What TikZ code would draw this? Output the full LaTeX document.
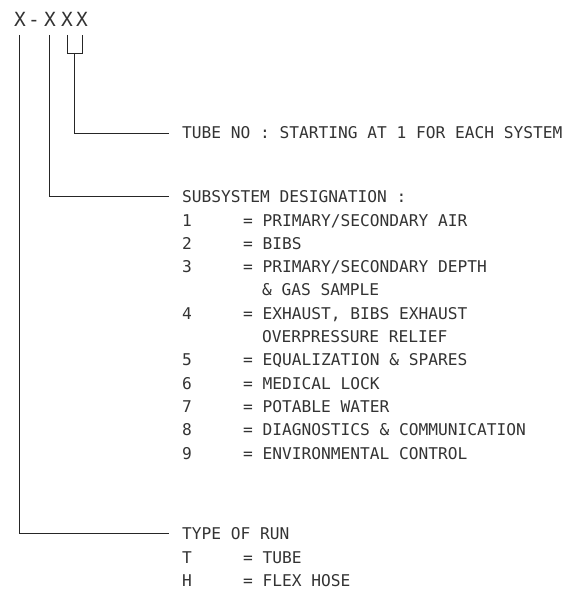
\documentclass[tikz,border=0pt]{standalone}
\usepackage{fontspec}
\setmainfont{DejaVu Sans Mono}
\newcommand{\lblfont}{\fontsize{16.2pt}{18pt}\selectfont}
\newcommand{\codefont}{\fontsize{19.5pt}{21pt}\selectfont}
\newcommand{\numcol}[1]{\makebox[61pt][l]{#1}}
\begin{document}
\begin{tikzpicture}[x=1pt,y=-1pt,
  every node/.style={inner sep=0pt, outer sep=0pt},
  lbl/.style={anchor=base west, font=\lblfont, text=black!80},
  lead/.style={draw=black!85, line width=0.9pt},
  gap/.style={shorten >=13pt}]
\useasboundingbox (0,0) rectangle (566,596);

% code
\node[anchor=base west, font=\codefont, text=black!80] (code) at (12.5,27)
  {\makebox[15pt]{X}\makebox[13pt]{-}\makebox[19pt]{X}\makebox[15pt]{X}\makebox[15pt]{X}};

\coordinate (c1) at (19,35);
\coordinate (c2) at (49,35);
\coordinate (c3) at (67,35);
\coordinate (c4) at (82,35);
\coordinate (b3) at (67,53);
\coordinate (b4) at (82,53);
\coordinate (bm) at (74.5,53);

% labels
\node[lbl] (tube) at (182,139) {TUBE NO : STARTING AT 1 FOR EACH SYSTEM};
\node[lbl] (sub) at (182,202) {SUBSYSTEM DESIGNATION :};
\node[lbl] (s1) at (182,226) {\numcol{1}= PRIMARY/SECONDARY AIR};
\node[lbl] (s2) at (182,249.3) {\numcol{2}= BIBS};
\node[lbl] (s3) at (182,272.6) {\numcol{3}= PRIMARY/SECONDARY DEPTH};
\node[lbl] (s3b) at (262,295.9) {\& GAS SAMPLE};
\node[lbl] (s4) at (182,319.2) {\numcol{4}= EXHAUST, BIBS EXHAUST};
\node[lbl] (s4b) at (262,342.5) {OVERPRESSURE RELIEF};
\node[lbl] (s5) at (182,365.8) {\numcol{5}= EQUALIZATION \& SPARES};
\node[lbl] (s6) at (182,389.1) {\numcol{6}= MEDICAL LOCK};
\node[lbl] (s7) at (182,412.4) {\numcol{7}= POTABLE WATER};
\node[lbl] (s8) at (182,435.7) {\numcol{8}= DIAGNOSTICS \& COMMUNICATION};
\node[lbl] (s9) at (182,459) {\numcol{9}= ENVIRONMENTAL CONTROL};
\node[lbl] (run) at (182,539) {TYPE OF RUN};
\node[lbl] (rT) at (182,563) {\numcol{T}= TUBE};
\node[lbl] (rH) at (182,586) {\numcol{H}= FLEX HOSE};

% leaders
\draw[lead] (c3) -- (b3) -- (b4) -- (c4);
\draw[lead, gap] (bm) |- (tube.west);
\draw[lead, gap] (c2) |- (sub.west);
\draw[lead, gap] (c1) |- (run.west);
\end{tikzpicture}
\end{document}
